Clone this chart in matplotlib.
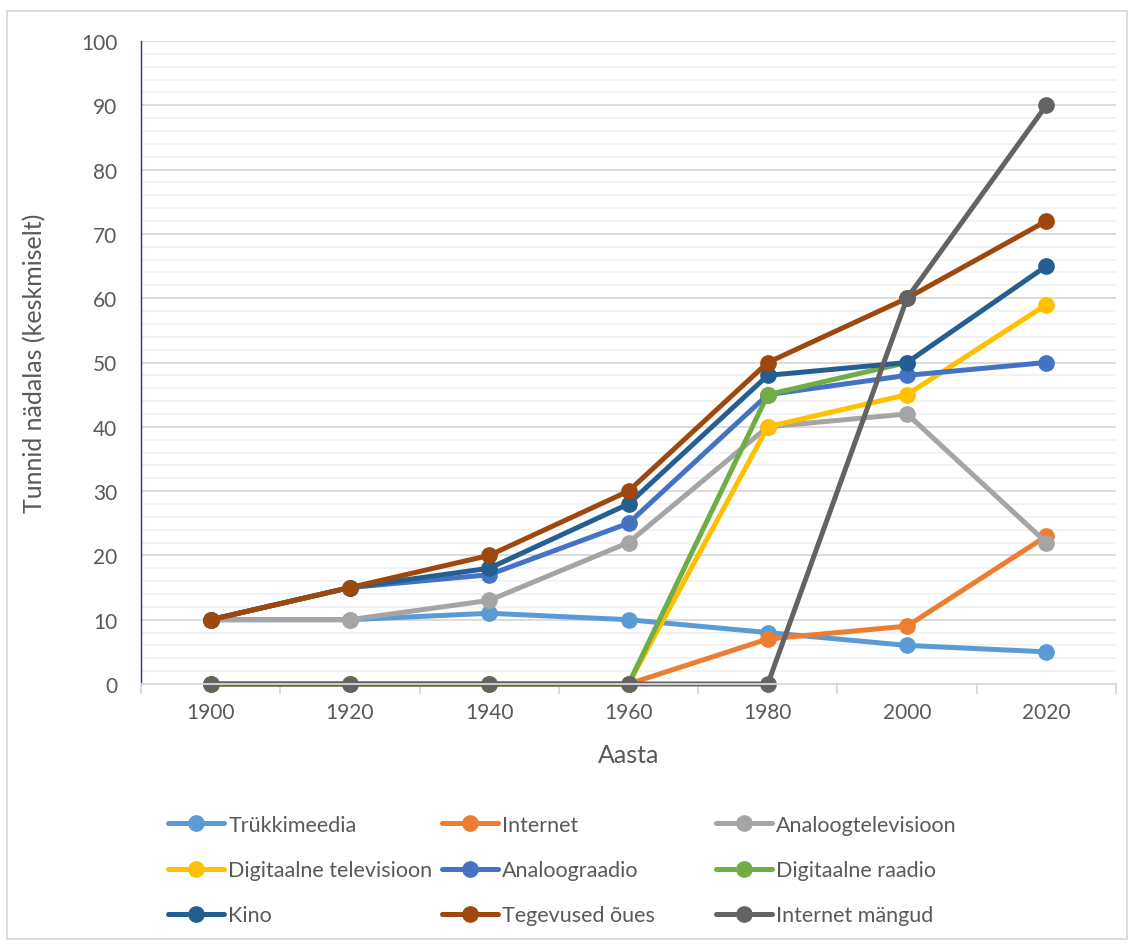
import numpy as np
import matplotlib.pyplot as plt
from matplotlib.patches import Rectangle

plt.rcParams['font.family'] = ['Lato', 'DejaVu Sans']

years = ['1900', '1920', '1940', '1960', '1980', '2000', '2020']
names = ['Trükkimeedia', 'Internet', 'Analoogtelevisioon',
         'Digitaalne televisioon', 'Analoograadio', 'Digitaalne raadio',
         'Kino', 'Tegevused õues', 'Internet mängud']
trukkimeedia = [10, 10, 11, 10, 8, 6, 5]
internet = [0, 0, 0, 0, 7, 9, 23]
analoog_tv = [10, 10, 13, 22, 40, 42, 22]
digi_tv = [0, 0, 0, 0, 40, 45, 59]
analoog_raadio = [10, 15, 17, 25, 45, 48, 50]
digi_raadio = [0, 0, 0, 0, 45, 50, np.nan]
kino = [10, 15, 18, 28, 48, 50, 65]
oues = [10, 15, 20, 30, 50, 60, 72]
internet_mangud = [0, 0, 0, 0, 0, 60, 90]
series = [trukkimeedia, internet, analoog_tv, digi_tv, analoog_raadio,
          digi_raadio, kino, oues, internet_mangud]
colors = ['#5B9BD5', '#ED7D31', '#A5A5A5', '#FFC000', '#4472C4',
          '#70AD47', '#255E91', '#9E480E', '#636363']

fig = plt.figure(figsize=(11.34, 9.45), dpi=100)
ax = fig.add_axes([141/1134, 1-685/945, (1116-141)/1134, (685-42)/945])

x = np.arange(len(years))
lines = []
for s, c, n in zip(series, colors, names):
    l, = ax.plot(x, s, color=c, lw=3.6, marker='o', ms=11, label=n,
                 solid_capstyle='round', clip_on=False)
    lines.append(l)

ax.set_xlim(-0.5, 6.5)
ax.set_ylim(0, 100)
ax.set_yticks(np.arange(0, 101, 10))
ax.set_yticks(np.arange(0, 101, 2), minor=True)
ax.set_xticks(x)
ax.set_xticklabels(years)
ax.set_xticks(np.arange(-0.5, 7, 1), minor=True)
ax.grid(axis='y', which='major', color='#D9D9D9', lw=1.3)
ax.grid(axis='y', which='minor', color='#F2F2F2', lw=1.3)
ax.set_axisbelow(True)
ax.tick_params(axis='x', which='major', length=0, pad=13, labelsize=15, labelcolor='#595959')
ax.tick_params(axis='x', which='minor', length=7, color='#D9D9D9', width=1.3)
ax.tick_params(axis='y', which='both', length=0, pad=17, labelsize=15, labelcolor='#595959')
for side in ['top', 'right']:
    ax.spines[side].set_visible(False)
ax.spines['bottom'].set_color('#D9D9D9')
ax.spines['bottom'].set_linewidth(1.3)
ax.spines['left'].set_color('#1F3A7A')
ax.spines['left'].set_linewidth(1.0)

ax.set_xlabel('Aasta', fontsize=18, color='#595959', labelpad=15)
ax.set_ylabel('Tunnid nädalas (keskmiselt)', fontsize=18, color='#595959', labelpad=25)

# legend laid out in fixed-width columns, row-wise like the original
col_x = [168, 442, 716]
for j in range(3):
    idx = [j, j + 3, j + 6]
    leg = fig.legend([lines[i] for i in idx], [names[i] for i in idx],
                     loc='upper left', bbox_to_anchor=(col_x[j]/1134, 1-816/945),
                     frameon=False, fontsize=15.5, handlelength=2.6, handletextpad=0.2,
                     labelspacing=1.17, borderpad=0, borderaxespad=0)
    for t in leg.get_texts():
        t.set_color('#595959')

fig.add_artist(Rectangle((7/1134, 1-940/945), 1120/1134, 928/945,
                         transform=fig.transFigure, fill=False,
                         edgecolor='#D9D9D9', lw=1.3))

plt.savefig('out.png', dpi=100)
